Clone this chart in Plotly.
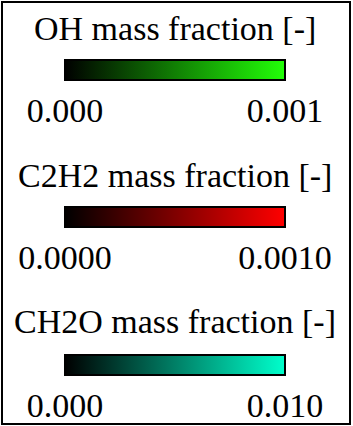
import plotly.graph_objects as go

# ---- data ----
titles = ["OH mass fraction [-]", "C2H2 mass fraction [-]", "CH2O mass fraction [-]"]
vmin = [0.0, 0.0, 0.0]
vmax = [0.001, 0.001, 0.010]
tick_labels = [["0.000", "0.001"], ["0.0000", "0.0010"], ["0.000", "0.010"]]
end_colors = ["rgb(34,255,8)", "rgb(255,0,0)", "rgb(0,255,204)"]

# ---- layout constants (pixels) ----
W, H = 353, 426
bar_tops_px = [60, 207, 355]
title_mid_px = [28, 175, 321]
bar_center_x = 175
FONT = "Liberation Serif, Times New Roman, serif"
FS = 34

fig = go.Figure()
layout_axes = {}
annotations = []
for i in range(3):
    ca = "coloraxis" if i == 0 else f"coloraxis{i+1}"
    fig.add_trace(go.Scatter(
        x=[None, None], y=[None, None], mode="markers",
        marker=dict(color=[vmin[i], vmax[i]], coloraxis=ca),
        showlegend=False, hoverinfo="skip"))
    layout_axes[ca] = dict(
        cmin=vmin[i], cmax=vmax[i],
        colorscale=[[0, "black"], [1, end_colors[i]]],
        colorbar=dict(
            orientation="h",
            thicknessmode="pixels", thickness=20,
            lenmode="pixels", len=220,
            xpad=0, ypad=0,
            x=bar_center_x / W, xanchor="center",
            y=1 - bar_tops_px[i] / H, yanchor="top",
            outlinewidth=2, outlinecolor="black",
            tickmode="array", tickvals=[vmin[i], vmax[i]], ticktext=tick_labels[i],
            ticks="",
            tickfont=dict(family=FONT, size=FS, color="black"),
            bgcolor="rgba(0,0,0,0)",
        ))
    annotations.append(dict(
        text=titles[i], xref="paper", yref="paper",
        x=bar_center_x / W, y=1 - title_mid_px[i] / H,
        xanchor="center", yanchor="middle", showarrow=False,
        font=dict(family=FONT, size=FS, color="black")))

fig.update_layout(
    width=W, height=H,
    margin=dict(l=0, r=0, t=0, b=0, autoexpand=False),
    paper_bgcolor="white", plot_bgcolor="white",
    xaxis=dict(visible=False), yaxis=dict(visible=False),
    annotations=annotations,
    shapes=[dict(type="rect", xref="paper", yref="paper",
                 x0=2 / W, x1=350 / W, y0=1 - 424 / H, y1=1 - 2 / H,
                 line=dict(color="black", width=2))],
    **layout_axes,
)

fig.write_html("out.html", config={"displayModeBar": False},
               post_script="document.body.style.margin='0px';")
